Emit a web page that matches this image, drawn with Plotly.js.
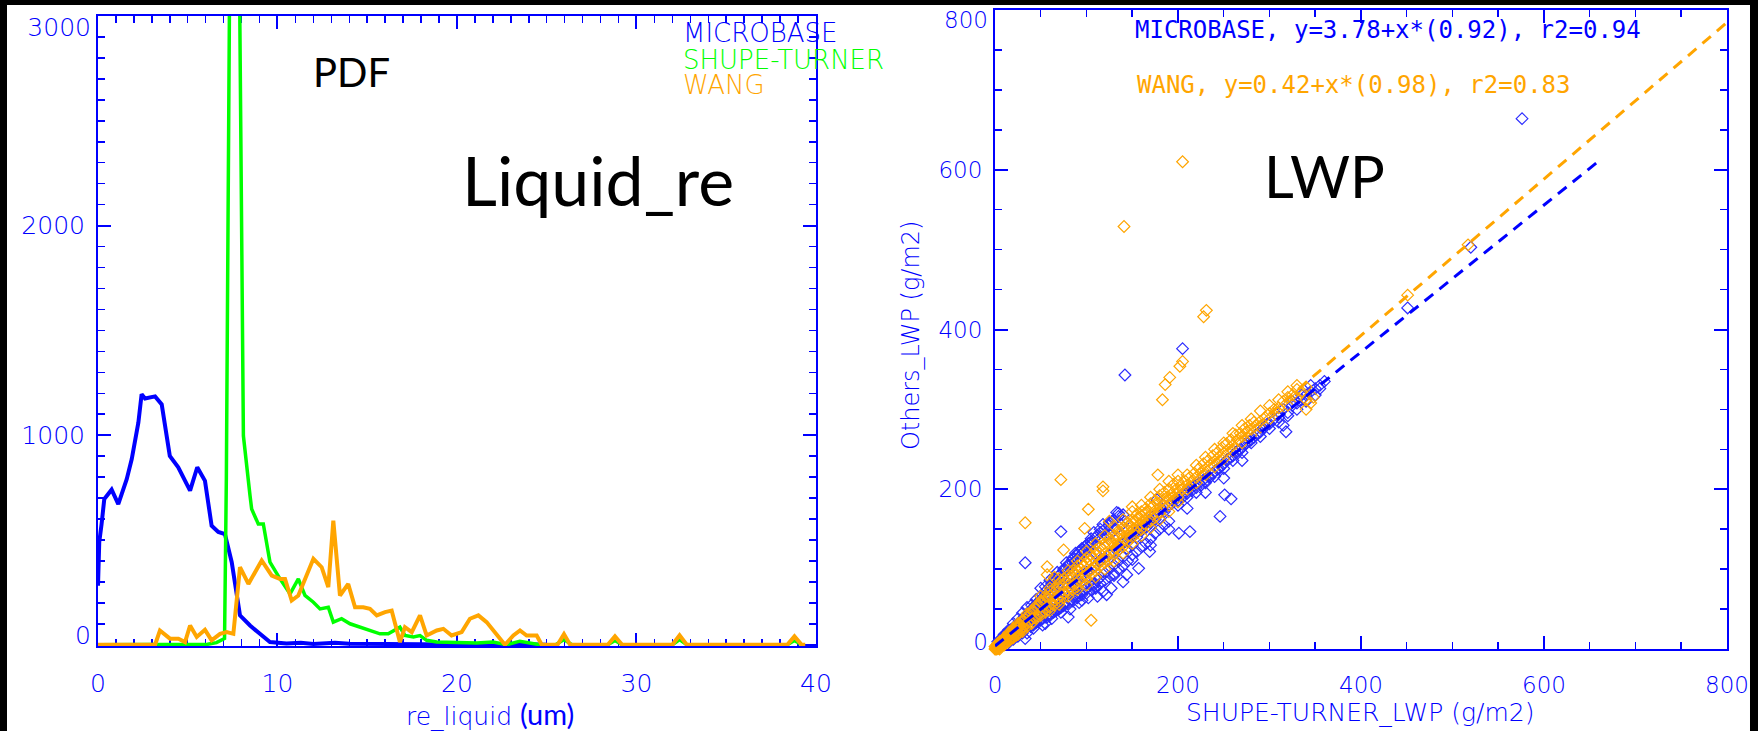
<!DOCTYPE html>
<html><head><meta charset="utf-8">
<script src="https://cdn.plot.ly/plotly-3.0.1.min.js"></script>
<style>
html,body{margin:0;padding:0;background:#000;width:1758px;height:731px;overflow:hidden}
#chart{position:absolute;left:0;top:0;width:1758px;height:731px}
</style></head><body><div id="chart"></div>
<script>
// ---------- Left panel: PDF of liquid effective radius ----------
const microbaseReX = [0, 0.07, 0.2, 0.35, 0.76, 1.13, 1.6, 1.88, 2.25, 2.43, 2.62, 3.18, 3.55, 4.0, 4.47, 5.13, 5.53, 5.96, 6.33, 6.7, 7.07, 7.45, 7.91, 8.47, 9.02, 9.58, 10.5, 11.3, 12, 13.2, 14, 16, 18, 20, 22, 24, 25];
const microbaseReY = [282, 490, 576, 695, 740, 671, 790, 886, 1061, 1195, 1175, 1185, 1147, 901, 847, 735, 847, 782, 568, 538, 528, 394, 140, 92, 52, 13, 6, 10, 4, 10, 5, 3, 2, 1, 0, 2, 0];

const shupeReX = [0, 3.2, 4.5, 6.1, 6.6, 7.05, 7.15, 7.25, 7.55, 7.9, 7.95, 8.0, 8.05, 8.1, 8.47, 8.56, 8.93, 9.21, 9.58, 10.14, 10.7, 11.16, 11.53, 12.0, 12.37, 12.83, 13.11, 13.57, 14.04, 14.6, 15.15, 15.71, 16.17, 16.55, 16.82, 17.1, 17.57, 17.94, 18.31, 18.87, 21.1, 22.0, 22.77, 23.5, 24.6, 25.5, 25.96, 26.4, 28.4, 28.8, 29.2, 32.0, 32.4, 32.8, 38.4, 38.8, 39.2];
const shupeReY = [0, 0, 0, 2, 10, 30, 790, 2250, 6000, 3000, 2520, 1590, 1092, 997, 711, 648, 576, 576, 394, 314, 243, 314, 235, 203, 171, 179, 108, 124, 100, 84, 68, 52, 52, 68, 84, 44, 37, 44, 21, 13, 8, 13, 0, 17, 0, 0, 25, 0, 0, 20, 0, 0, 25, 0, 0, 20, 0];

const wangReX = [0, 3.18, 3.45, 4.01, 4.48, 4.85, 5.13, 5.5, 5.96, 6.33, 6.8, 7.17, 7.54, 7.91, 8.38, 9.12, 9.68, 10.14, 10.42, 10.79, 11.16, 12.0, 12.46, 12.83, 13.11, 13.48, 13.94, 14.32, 14.78, 15.15, 15.53, 15.99, 16.36, 16.82, 17.1, 17.48, 17.94, 18.31, 18.87, 19.24, 19.7, 20.26, 20.72, 21.19, 21.65, 22.21, 22.67, 23.14, 23.51, 23.88, 24.44, 24.72, 25.6, 25.96, 26.3, 28.4, 28.8, 29.2, 32.0, 32.4, 32.8, 38.4, 38.8, 39.2, 39.4];
const wangReY = [0, 0, 68, 29, 29, 13, 92, 37, 71, 21, 52, 60, 52, 370, 290, 402, 330, 314, 314, 211, 235, 410, 370, 275, 592, 235, 290, 179, 179, 171, 140, 156, 163, 13, 84, 60, 140, 44, 68, 76, 44, 60, 124, 140, 108, 52, 0, 44, 68, 44, 44, 0, 0, 50, 0, 0, 40, 0, 0, 45, 0, 0, 40, 0, 0];

const pdfNames = ['MICROBASE', 'SHUPE-TURNER', 'WANG'];
const pdfYTicks = [0, 1000, 2000, 3000];
const lwpTicks = [0, 200, 400, 600, 800];

// ---------- Right panel: LWP scatter, [SHUPE-TURNER LWP, other LWP] ----------
const microbaseLwpPairs = [
 [3,9],[5,4],[7,12],[8,6],[10,16],[12,9],[13,20],[15,12],[17,24],[18,14],[20,27],[22,16],[24,30],[25,19],[27,34],[29,22],[30,38],[32,24],[34,42],[35,20],
 [37,45],[39,28],[40,50],[42,30],[44,55],[45,33],[47,58],[49,36],[50,62],[52,38],[55,66],[57,40],[58,70],[60,42],[62,74],[64,46],[65,80],[67,48],[70,85],[72,52],
 [74,90],[75,56],[77,95],[80,58],[82,100],[84,62],[85,108],[87,66],[90,112],[92,70],[94,118],[95,72],[97,122],[100,76],[102,128],[104,80],[106,132],[108,82],[110,120],[112,86],
 [114,110],[115,90],[117,138],[120,95],[122,142],[125,100],[127,145],[130,105],[132,150],[135,110],[138,155],[140,115],[142,160],[145,125],[148,140],[150,130],[152,145],[155,140],[158,150],[160,148],
 [163,155],[165,152],[168,160],[170,158],[172,165],[175,162],[178,168],[180,170],[183,175],[185,172],[188,178],[190,180],[193,182],[195,185],[198,188],[200,186],[203,192],[205,190],[208,196],[210,195],
 [213,200],[215,198],[218,204],[220,202],[223,208],[225,205],[228,212],[230,210],[233,216],[235,215],[238,220],[240,222],[243,225],[245,226],[248,230],[250,232],[253,236],[255,238],[258,240],[260,242],
 [263,246],[265,248],[268,250],[270,252],[273,256],[275,258],[278,260],[280,262],[283,265],[285,268],[288,270],[290,272],[293,276],[295,278],[298,282],[300,282],[305,288],[310,290],[315,300],[320,296],
 [325,305],[330,308],[335,312],[340,318],[345,322],[350,326],[355,330],[360,335],
 [40,55],[45,62],[50,66],[55,72],[60,78],[65,84],[70,92],[75,98],[80,104],[85,112],[90,118],[95,124],[100,130],[105,134],[110,140],[115,146],[120,150],[125,155],[130,162],[135,166],
 [140,168],[60,86],[68,96],[78,108],[88,120],[98,128],[108,146],[118,156],[128,160],[50,76],[35,52],[30,45],[25,38],[20,32],[15,24],[10,18],
 [55,78],[65,88],[75,100],[85,114],[95,126],[105,138],[115,150],[125,158],[135,170],[62,82],[72,94],[82,108],[92,122],[102,132],[112,142],
 [40,30],[45,34],[50,36],[55,40],[60,44],[65,48],[70,50],[75,54],[80,56],[85,60],[90,64],[95,68],[100,70],[105,74],[110,78],[115,82],[120,86],[125,90],[130,94],[135,100],
 [140,104],[145,110],[150,118],[155,122],[160,128],[165,132],[170,138],[175,145],[180,150],[185,155],[190,160],[88,68],[98,74],[108,80],[118,72],[122,68],[112,66],[102,64],[92,58],[82,50],
 [72,46],[62,38],[52,30],[42,26],[30,20],[25,16],[20,12],[15,8],
 [70,52],[90,66],[110,76],[130,92],[150,112],[170,130],[190,150],[210,176],[230,196],[250,214],[270,236],
 [5,8],[10,12],[15,16],[20,20],[25,26],[30,30],[35,34],[40,40],[45,44],[50,50],[55,54],[60,58],[65,62],[70,68],[75,72],[80,78],[85,82],[90,86],[95,92],[100,96],
 [105,100],[110,104],[115,110],[120,114],[125,118],[130,122],[135,128],[140,132],[145,138],[150,140],[155,146],[160,152],[200,180],[210,190],[220,196],[230,208],[240,216],[250,226],[260,236],[270,246],
 [280,258],[290,266],[300,276],[310,284],[320,292],[330,300],[340,310],[350,318],[355,326],[345,330],[335,318],[325,310],
 [33,108],[72,147],[133,171],[177,187],[251,193],[258,188],[246,166],[201,145],[213,147],[169,122],[157,101],[140,84],[144,93],[127,76],[95,61],[80,40],[55,32],[33,13],[142,343],[205,376],
 [451,427],[520,503],[576,664],[315,280],[318,272]
];

const wangLwpPairs = [
 [1,2],[2,0],[3,4],[4,1],[5,6],[6,3],[7,9],[8,5],[9,11],[10,7],[11,14],[12,9],[13,15],[14,11],[15,18],[16,13],[17,20],[18,15],[19,22],[20,18],
 [21,25],[22,19],[23,27],[24,21],[25,28],[26,23],[27,31],[28,25],[29,34],[30,27],[31,36],[32,28],[33,38],[34,30],[35,40],[36,33],[37,42],[38,35],[39,45],[40,37],
 [42,48],[43,39],[45,50],[46,42],[48,55],[49,44],[50,58],[52,47],[54,60],[55,50],[57,65],[58,53],[60,66],[62,57],[64,70],[65,60],[67,74],[68,63],[70,78],[72,66],
 [74,80],[75,70],[77,84],[79,72],[80,88],[82,76],[84,92],[85,80],[87,95],[89,82],[90,98],[92,86],[94,100],[95,90],[97,104],[99,92],[100,108],[102,96],[104,110],[105,100],
 [107,114],[109,103],[110,118],[112,106],[114,120],[115,110],[117,125],[119,113],[120,128],[122,116],[124,132],[125,120],[127,134],[129,124],[130,138],[132,127],[134,140],[135,131],[137,145],[139,134],
 [140,148],[142,137],[144,150],[145,142],[147,155],[149,146],[150,158],[152,150],[154,160],[155,152],[157,164],[159,156],[160,166],[162,158],[164,170],[165,162],[168,172],[170,166],[172,178],[175,170],
 [178,182],[180,176],[183,186],[185,180],[188,190],[190,186],[193,194],[195,190],[198,200],[200,195],[203,204],[205,200],[208,210],[210,205],[213,215],[215,210],[218,220],[220,215],[223,226],[225,220],
 [228,232],[230,225],[233,236],[235,230],[238,242],[240,235],[243,246],[245,240],[248,252],[250,245],[253,257],[255,250],[258,262],[260,255],[263,268],[265,262],[268,270],[270,266],[273,276],[275,272],
 [278,280],[280,275],[283,284],[285,280],[290,285],[295,290],[300,295],[305,300],[310,302],[315,310],[320,315],[325,318],[330,325],[335,322],[340,312],[345,308],[348,315],
 [5,9],[10,14],[15,20],[20,26],[25,32],[30,36],[35,44],[40,48],[45,54],[50,60],[55,66],[60,72],[65,76],[70,82],[75,88],[80,92],[85,98],[90,104],[95,108],[100,114],
 [105,118],[110,124],[115,128],[120,132],[125,138],[130,142],[135,148],[140,152],[145,158],[150,162],[155,168],[160,172],[165,176],[170,182],[175,186],[180,192],[185,196],[190,200],[195,206],[200,210],
 [210,218],[220,230],[230,240],[240,250],[250,258],[260,270],[270,280],[280,288],[290,298],[300,305],[310,312],[320,322],[330,330],[340,328],
 [50,66],[60,76],[70,88],[80,98],[90,110],[100,122],[110,132],[120,142],[130,154],[140,162],[150,172],[160,180],[170,190],[180,200],[190,210],[200,218],
 [5,2],[10,5],[15,10],[20,14],[25,18],[30,22],[35,28],[40,32],[45,38],[50,42],[55,46],[60,52],[65,55],[70,60],[75,64],[80,70],[85,74],[90,78],[95,84],[100,88],
 [105,94],[110,98],[115,104],[120,108],[125,112],[130,118],[135,124],[140,128],[145,134],[150,140],[155,145],[160,150],[165,156],[170,160],[175,165],[180,170],[190,180],[200,190],[210,200],[220,208],
 [230,218],[240,228],[250,238],[260,248],[270,258],[280,268],[290,278],[300,288],[310,296],[320,305],[330,315],[340,300],
 [60,48],[70,56],[80,66],[90,74],[100,80],[110,90],[120,100],[130,110],[140,120],[150,132],[160,142],[170,152],[180,162],[190,172],[200,184],
 [2,3],[3,1],[4,5],[6,7],[7,4],[8,10],[9,6],[11,10],[12,13],[13,8],[14,16],[16,11],[17,17],[18,20],[19,14],[21,20],[22,24],[23,17],[24,26],[26,20],
 [27,28],[28,30],[29,24],[0,0],[0,3],[1,0],[2,5],[3,7],[4,3],[5,0],
 [33,158],[72,212],[118,203],[118,198],[178,218],[102,175],[105,36],[98,151],[75,124],[57,103],[57,93],[141,529],[205,610],[231,424],[228,416],[183,312],[186,331],[191,340],[202,354],[205,360],
 [451,443],[517,506],[150,178],[125,160],[65,90]
];

// regression results printed on the chart
const mbFit = {a: 3.78, b: 0.92, r2: 0.94, xEnd: 660};
const wgFit = {a: 0.42, b: 0.98, r2: 0.83, xEnd: 800};

const BLUE = '#0000ff', GREEN = '#00ff00', ORANGE = '#ffa500', MBLUE = '#2b2bff';
const IDL = 'DejaVu Sans';
const CAL = 'Lato, "Open Sans", sans-serif';

function fitLine(f) { return {x: [0, f.xEnd], y: [f.a, f.a + f.b * f.xEnd]}; }
const mbL = fitLine(mbFit), wgL = fitLine(wgFit);
const px = p => p.map(d => d[0]), py = p => p.map(d => d[1]);

const traces = [
  {x: microbaseReX, y: microbaseReY, mode: 'lines', line: {color: BLUE, width: 4}, xaxis: 'x', yaxis: 'y'},
  {x: shupeReX, y: shupeReY, mode: 'lines', line: {color: GREEN, width: 3.5}, xaxis: 'x', yaxis: 'y'},
  {x: wangReX, y: wangReY, mode: 'lines', line: {color: ORANGE, width: 4}, xaxis: 'x', yaxis: 'y'},
  {x: px(microbaseLwpPairs), y: py(microbaseLwpPairs), mode: 'markers', cliponaxis: false,
   marker: {symbol: 'diamond-open', size: 9, color: MBLUE, line: {width: 1.2, color: MBLUE}}, xaxis: 'x2', yaxis: 'y2'},
  {x: px(wangLwpPairs), y: py(wangLwpPairs), mode: 'markers', cliponaxis: false,
   marker: {symbol: 'diamond-open', size: 9, color: ORANGE, line: {width: 1.2, color: ORANGE}}, xaxis: 'x2', yaxis: 'y2'},
  {x: wgL.x, y: wgL.y, mode: 'lines', line: {color: ORANGE, width: 3, dash: '11px,8px'}, xaxis: 'x2', yaxis: 'y2'},
  {x: mbL.x, y: mbL.y, mode: 'lines', line: {color: BLUE, width: 3, dash: '11px,8px'}, xaxis: 'x2', yaxis: 'y2'},
  // empty carriers so the label-only overlay axes get drawn
  {x: [], y: [], mode: 'markers', xaxis: 'x', yaxis: 'y3', hoverinfo: 'skip'},
  {x: [], y: [], mode: 'markers', xaxis: 'x', yaxis: 'y4', hoverinfo: 'skip'},
  {x: [], y: [], mode: 'markers', xaxis: 'x2', yaxis: 'y5', hoverinfo: 'skip'},
  {x: [], y: [], mode: 'markers', xaxis: 'x2', yaxis: 'y6', hoverinfo: 'skip'}
];

function ax(extra) {
  return Object.assign({
    showline: true, linecolor: BLUE, linewidth: 2, mirror: 'ticks',
    ticks: 'inside', tickcolor: BLUE, tickwidth: 2, ticklen: 13,
    showgrid: false, zeroline: false, layer: 'below traces', fixedrange: true,
    ticklabeloverflow: 'allow',
    tickfont: {family: IDL, size: 25, color: BLUE, weight: 200}
  }, extra);
}
// label-only overlay axis: used to nudge the end labels inward like the original plot
function labelAx(over, anchor, range, vals, shift, size) {
  return {overlaying: over, anchor: anchor, side: 'left', range: range, tickmode: 'array', tickvals: vals, ticktext: vals.map(String),
          showline: false, ticks: '', showgrid: false, zeroline: false, fixedrange: true, ticklabelstandoff: 6,
          ticklabelshift: shift, ticklabeloverflow: 'allow', tickfont: {family: IDL, size: size, color: BLUE, weight: 200}};
}
const minorT = d => ({dtick: d, ticks: 'inside', ticklen: 7, tickwidth: 1.5, tickcolor: BLUE, showgrid: false});
const midText = v => v.map((t, i) => (i === 0 || i === v.length - 1) ? '' : String(t));

const ann = (o) => Object.assign({showarrow: false}, o);
const annotations = [
  ann({xref: 'x', yref: 'y', x: 14.15, y: 2733, text: 'PDF', font: {family: CAL, size: 40, color: '#000'}}),
  ann({xref: 'x', yref: 'y', x: 27.86, y: 2219, text: 'Liquid_re', font: {family: CAL, size: 68, color: '#000'}}),
  ann({xref: 'x', yref: 'y', x: 32.5, y: 2919, xanchor: 'left', text: pdfNames[0], font: {family: IDL, size: 26, color: BLUE, weight: 200}}),
  ann({xref: 'x', yref: 'y', x: 32.5, y: 2790, xanchor: 'left', text: pdfNames[1], font: {family: IDL, size: 26, color: GREEN, weight: 200}}),
  ann({xref: 'x', yref: 'y', x: 32.5, y: 2671, xanchor: 'left', text: pdfNames[2], font: {family: IDL, size: 26, color: ORANGE, weight: 200}}),
  ann({xref: 'x', yref: 'y domain', x: 21.84, y: 0, yshift: -67, yanchor: 'middle',
       text: 're_liquid <span style="font-family:Lato;font-size:29px;font-weight:normal;fill:#0000ff">(um)</span>', font: {family: IDL, size: 25, color: BLUE, weight: 200}}),
  ann({xref: 'x2', yref: 'y2', x: 359.6, y: 593, text: 'LWP', font: {family: CAL, size: 58, color: '#000'}}),
  ann({xref: 'x2', yref: 'y2', x: 150.8, y: 775, xanchor: 'left',
       text: 'MICROBASE, y=' + mbFit.a.toFixed(2) + '+x*(' + mbFit.b.toFixed(2) + '), r2=' + mbFit.r2.toFixed(2),
       font: {family: 'DejaVu Sans Mono', size: 24, color: BLUE}}),
  ann({xref: 'x2', yref: 'y2', x: 153, y: 706, xanchor: 'left',
       text: 'WANG, y=' + wgFit.a.toFixed(2) + '+x*(' + wgFit.b.toFixed(2) + '), r2=' + wgFit.r2.toFixed(2),
       font: {family: 'DejaVu Sans Mono', size: 24, color: ORANGE}}),
  ann({xref: 'x2', yref: 'y2 domain', x: 398.9, y: 0, yshift: -63, yanchor: 'middle',
       text: 'SHUPE-TURNER_LWP (g/m2)', font: {family: IDL, size: 25, color: BLUE, weight: 200}}),
  ann({xref: 'x2 domain', yref: 'y2', x: 0, xshift: -84, y: 393, textangle: -90, xanchor: 'center', yanchor: 'middle',
       text: 'Others_LWP (g/m2)', font: {family: IDL, size: 24, color: BLUE, weight: 200}})
];

const pdfRange = [-6, 3000], lwpRange = [0, 800];
const layout = {
  width: 1758, height: 731,
  margin: {l: 0, r: 0, t: 0, b: 0, pad: 0},
  paper_bgcolor: '#000000', plot_bgcolor: '#ffffff',
  showlegend: false,
  shapes: [{type: 'rect', xref: 'paper', yref: 'paper', x0: 0.003982, x1: 0.995449, y0: 0, y1: 0.993160,
            fillcolor: '#ffffff', line: {width: 0}, layer: 'below'}],
  xaxis: ax({domain: [0.055745, 0.464164], range: [0, 40], tick0: 0, dtick: 10, anchor: 'y', minor: minorT(1), ticklabelstandoff: 14}),
  yaxis: ax({domain: [0.116279, 0.978112], range: pdfRange, tickmode: 'array', tickvals: pdfYTicks, ticktext: midText(pdfYTicks),
             anchor: 'x', minor: minorT(100), ticklabelstandoff: 6}),
  yaxis3: labelAx('y', 'x', pdfRange, [pdfYTicks[pdfYTicks.length - 1]], 11, 25),
  yaxis4: labelAx('y', 'x', pdfRange, [pdfYTicks[0]], -9, 25),
  xaxis2: ax({domain: [0.565984, 0.982366], range: lwpRange, tick0: 0, dtick: 200, anchor: 'y2', minor: minorT(50), ticklabelstandoff: 14,
              tickfont: {family: IDL, size: 23, color: BLUE, weight: 200}}),
  yaxis2: ax({domain: [0.112175, 0.986320], range: lwpRange, tickmode: 'array', tickvals: lwpTicks, ticktext: midText(lwpTicks),
              anchor: 'x2', minor: minorT(50), ticklabelstandoff: 6,
              tickfont: {family: IDL, size: 23, color: BLUE, weight: 200}}),
  yaxis5: labelAx('y2', 'x2', lwpRange, [lwpTicks[lwpTicks.length - 1]], 10, 23),
  yaxis6: labelAx('y2', 'x2', lwpRange, [lwpTicks[0]], -7, 23),
  annotations: annotations
};

Plotly.newPlot('chart', traces, layout, {displayModeBar: false, staticPlot: true});
</script></body></html>
